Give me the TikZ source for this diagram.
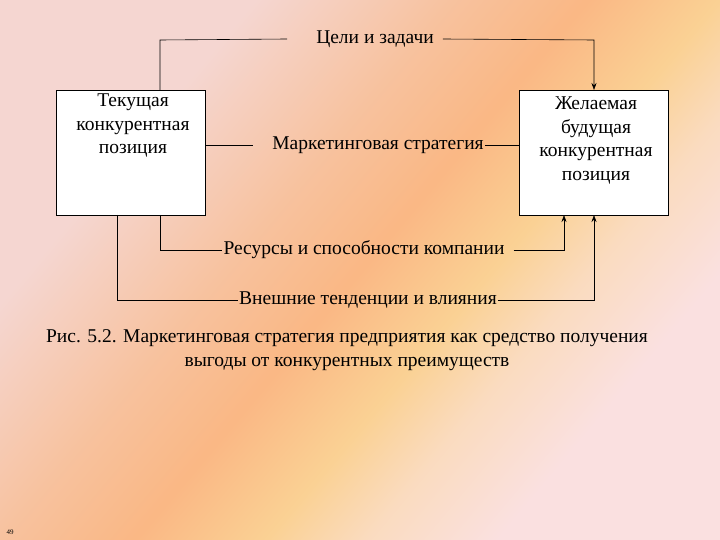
\documentclass[tikz,border=0pt]{standalone}
\usepackage{fontspec}
\setmainfont{Liberation Serif}
\usetikzlibrary{arrows.meta,shadings}
\pgfdeclarehorizontalshading{bgsh}{100bp}{
 rgb(0bp)=(0.96,0.84,0.82);
 rgb(30bp)=(0.96,0.84,0.82);
 rgb(42bp)=(0.97,0.76,0.62);
 rgb(50bp)=(0.98,0.72,0.52);
 rgb(58bp)=(0.98,0.82,0.58);
 rgb(64bp)=(0.98,0.86,0.75);
 rgb(72bp)=(0.98,0.88,0.88);
 rgb(100bp)=(0.98,0.88,0.88)}
\begin{document}
\begin{tikzpicture}[x=1pt,y=-1pt,
  box/.style={draw,fill=white,minimum width=149pt,minimum height=125pt,anchor=north west,inner sep=0pt},
  lbl/.style={font=\fontsize{19.5}{23.5}\selectfont,inner sep=1pt},
  ln/.style={draw,line width=0.6pt},
  arr/.style={ln,-{Stealth[length=7pt,width=5pt]}}]
\shade[shading=bgsh,shading angle=-40] (0,0) rectangle (720,540);
\useasboundingbox (0,0) rectangle (720,540);
\node[box] (L) at (56,90) {};
\node[box] (R) at (519,90) {};
\node[lbl,align=center,anchor=north] (Lt) at (133,93) {Текущая\\конкурентная\\позиция};
\node[lbl,align=center,anchor=north] (Rt) at (596,96) {Желаемая\\будущая\\конкурентная\\позиция};
\node[lbl] (G) at (375,39) {Цели и задачи};
\node[lbl] (M) at (378,145) {Маркетинговая стратегия};
\node[lbl] (Res) at (364,250) {Ресурсы и способности компании};
\node[lbl] (E) at (368,300) {Внешние тенденции и влияния};
\coordinate (g1) at (160,40); \coordinate (g2) at (594,40);
\coordinate (r1) at (160,250); \coordinate (r2) at (564,250);
\coordinate (e1) at (117,300); \coordinate (e2) at (594,300);
\draw[ln] ([xshift=-28pt]G.west) -- (g1) -- (160,90);
\draw[arr] ([xshift=8pt]G.east) -- (g2) -- (594,90);
\draw[ln] (L.east |- M.west) -- ([xshift=-18pt]M.west);
\draw[ln] (M.east) -- (R.west |- M.east);
\draw[ln] (160,215) -- (r1) -- (Res.west);
\draw[arr] ([xshift=8pt]Res.east) -- (r2) -- (564,215);
\draw[ln] (117,215) -- (e1) -- (E.west);
\draw[arr] (E.east) -- (e2) -- (594,215);
\node[lbl,align=center] (cap) at (347,350) {Рис. 5.2. Маркетинговая стратегия предприятия как средство получения\\выгоды от конкурентных преимуществ};
\node[font=\fontsize{7}{8}\selectfont] (pg) at (10,532) {49};
\end{tikzpicture}
\end{document}
